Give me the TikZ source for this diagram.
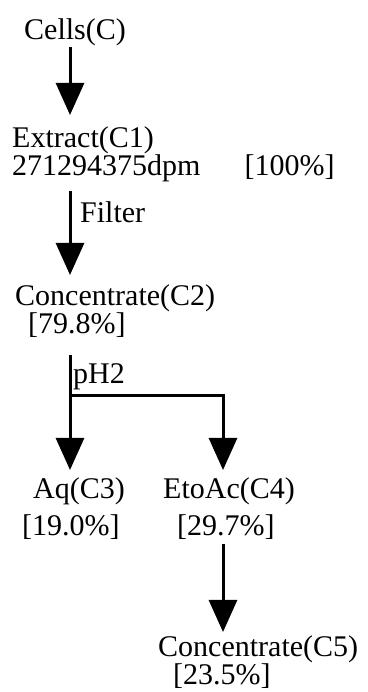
\documentclass[tikz,border=0pt]{standalone}
\usepackage{fontspec}
\setmainfont{Liberation Serif}
\usetikzlibrary{arrows.meta}

\begin{document}
\begin{tikzpicture}[x=1pt, y=-1pt, every node/.style={font=\fontsize{30}{30}\selectfont, inner sep=0pt, anchor=base west}]
\tikzstyle{flow}=[line width=3pt, -{Triangle[length=32pt, width=28pt]}]
\useasboundingbox (0,0) rectangle (367,692);
\coordinate (colA) at (70,0);
\coordinate (colB) at (223,0);
\node (cells) at (24,40) {Cells(C)};
\node (extract) at (12,148) {Extract(C1)};
\node (dpm) at (12,176) {271294375dpm\hspace{44pt}[100\%]};
\node (filter) at (80,223) {Filter};
\node (conc2) at (15,305) {Concentrate(C2)};
\node (pct2) at (28,333) {[79.8\%]};
\node (ph) at (73,383) {pH2};
\node (aq) at (33,498) {Aq(C3)};
\node (pct3) at (22,535) {[19.0\%]};
\node (etoac) at (163,498) {EtoAc(C4)};
\node (pct4) at (177,535) {[29.7\%]};
\node (conc5) at (158,656) {Concentrate(C5)};
\node (pct5) at (173,684) {[23.5\%]};
\coordinate (split) at (70,395);
\draw[flow, shorten >=12pt] (cells.south -| colA) -- (extract.north -| colA);
\draw[flow, shorten <=8pt, shorten >=9pt] (dpm.south -| colA) -- (conc2.north -| colA);
\draw[flow, shorten <=18pt, shorten >=7pt] (pct2.south -| colA) -- (aq.north -| colA);
\draw[flow, shorten >=7pt] (split) -| (etoac.north -| colB);
\draw[flow, shorten <=5pt, shorten >=3pt] (pct4.south -| colB) -- (conc5.north -| colB);
\end{tikzpicture}
\end{document}
